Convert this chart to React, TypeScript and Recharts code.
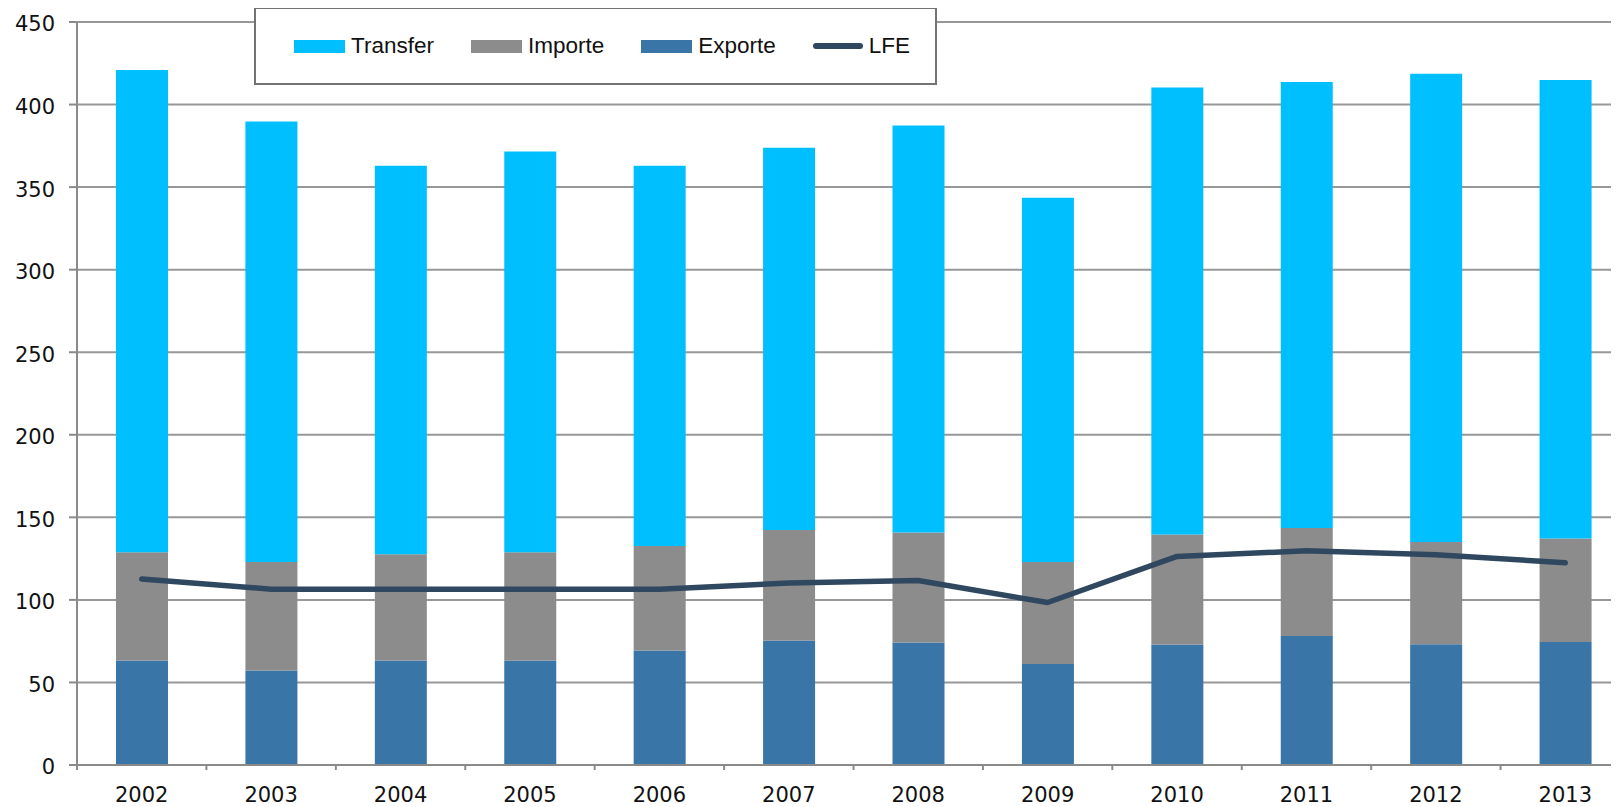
import React from 'react';
import { ComposedChart, Bar, Line, XAxis, YAxis, CartesianGrid, Legend } from 'recharts';

const years = ['2002', '2003', '2004', '2005', '2006', '2007', '2008', '2009', '2010', '2011', '2012', '2013'];
const exporte = [63.3, 57.3, 63.3, 63.3, 69.4, 75.4, 74.2, 61.1, 73.0, 78.1, 73.2, 74.5];
const importe = [65.6, 65.6, 64.4, 65.6, 63.2, 66.9, 66.6, 61.8, 66.6, 65.4, 61.8, 62.7];
const transfer = [292.1, 266.8, 235.2, 242.7, 230.3, 231.5, 246.5, 220.7, 270.7, 270.2, 283.7, 277.6];
const lfe = [112.6, 106.5, 106.5, 106.5, 106.5, 110.2, 111.7, 98.4, 126.3, 129.7, 127.3, 122.5];
const yTicks = [0, 50, 100, 150, 200, 250, 300, 350, 400, 450];

const COLORS = {
  Transfer: '#00BFFF',
  Importe: '#8C8C8C',
  Exporte: '#3A75A7',
  LFE: '#2F4860',
};

const legendItems = [
  { name: 'Transfer', type: 'rect' },
  { name: 'Importe', type: 'rect' },
  { name: 'Exporte', type: 'rect' },
  { name: 'LFE', type: 'line' },
];

const data = years.map((y, i) => ({
  year: y,
  Exporte: exporte[i],
  Importe: importe[i],
  Transfer: transfer[i],
  LFE: lfe[i],
}));

const CHART_W = 1640;
const CHART_H = 799;
const MARGIN = { top: 14, right: 18, bottom: 0, left: 0 };
const Y_W = 69;
const BAND = (CHART_W - MARGIN.right - MARGIN.left - Y_W) / years.length;
const AXIS_COLOR = '#8A8A8A';
const TICK_FONT = '"DejaVu Sans", Verdana, sans-serif';

const XTick = (props: any) => {
  const { x, y, payload, index } = props;
  const half = BAND / 2;
  return (
    <g>
      <line x1={x - half} x2={x - half} y1={y} y2={y + 5} stroke={AXIS_COLOR} strokeWidth={2} />
      {index === years.length - 1 && (
        <line x1={x + half} x2={x + half} y1={y} y2={y + 5} stroke={AXIS_COLOR} strokeWidth={2} />
      )}
      <text x={x} y={y + 22} dy="0.71em" textAnchor="middle" fontFamily={TICK_FONT} fontSize={21} fill="#111">
        {payload.value}
      </text>
    </g>
  );
};

const YTick = (props: any) => {
  const { x, y, payload } = props;
  return (
    <text x={x} y={y + 2} dy="0.355em" textAnchor="end" fontFamily={TICK_FONT} fontSize={21} fill="#111">
      {payload.value}
    </text>
  );
};

const renderLegend = () => (
  <div
    style={{
      width: '100%',
      height: '100%',
      boxSizing: 'border-box',
      border: '2px solid #737373',
      background: '#fff',
      display: 'flex',
      alignItems: 'center',
      paddingLeft: 38,
      fontFamily: '"Liberation Sans", Arial, sans-serif',
      fontSize: 22.5,
      color: '#111',
    }}
  >
    {legendItems.map((it, i) => (
      <div key={it.name} style={{ display: 'flex', alignItems: 'center', marginRight: i < legendItems.length - 1 ? 37 : 0 }}>
        {it.type === 'rect' ? (
          <div style={{ width: 51, height: 13, background: (COLORS as any)[it.name] }} />
        ) : (
          <div style={{ width: 50, height: 6, borderRadius: 3, background: (COLORS as any)[it.name] }} />
        )}
        <span style={{ marginLeft: 6, lineHeight: 1 }}>{it.name}</span>
      </div>
    ))}
  </div>
);

export default function App() {
  return (
    <div style={{ width: 1611, height: CHART_H, overflow: 'hidden', position: 'relative' }}>
      <ComposedChart width={CHART_W} height={CHART_H} data={data} margin={MARGIN}>
        <CartesianGrid horizontal vertical={false} stroke="#979797" strokeWidth={2} />
        <XAxis
          dataKey="year"
          height={42}
          tickSize={0}
          tickMargin={0}
          tickLine={false}
          interval={0}
          axisLine={{ stroke: AXIS_COLOR, strokeWidth: 2 }}
          tick={<XTick />}
        />
        <YAxis
          width={Y_W}
          domain={[0, 450]}
          ticks={yTicks}
          interval={0}
          tickSize={8}
          tickMargin={14}
          tickLine={{ stroke: AXIS_COLOR, strokeWidth: 2 }}
          axisLine={{ stroke: AXIS_COLOR, strokeWidth: 2 }}
          tick={<YTick />}
        />
        <Bar dataKey="Exporte" stackId="a" fill={COLORS.Exporte} barSize={52} isAnimationActive={false} />
        <Bar dataKey="Importe" stackId="a" fill={COLORS.Importe} barSize={52} isAnimationActive={false} />
        <Bar dataKey="Transfer" stackId="a" fill={COLORS.Transfer} barSize={52} isAnimationActive={false} />
        <Line
          dataKey="LFE"
          type="linear"
          stroke={COLORS.LFE}
          strokeWidth={5.5}
          strokeLinecap="round"
          strokeLinejoin="round"
          dot={false}
          activeDot={false}
          isAnimationActive={false}
        />
        <Legend
          layout="horizontal"
          verticalAlign="middle"
          align="center"
          wrapperStyle={{ position: 'absolute', left: 246, top: -1, width: 683, height: 78, margin: 0 }}
          content={renderLegend}
        />
      </ComposedChart>
    </div>
  );
}
